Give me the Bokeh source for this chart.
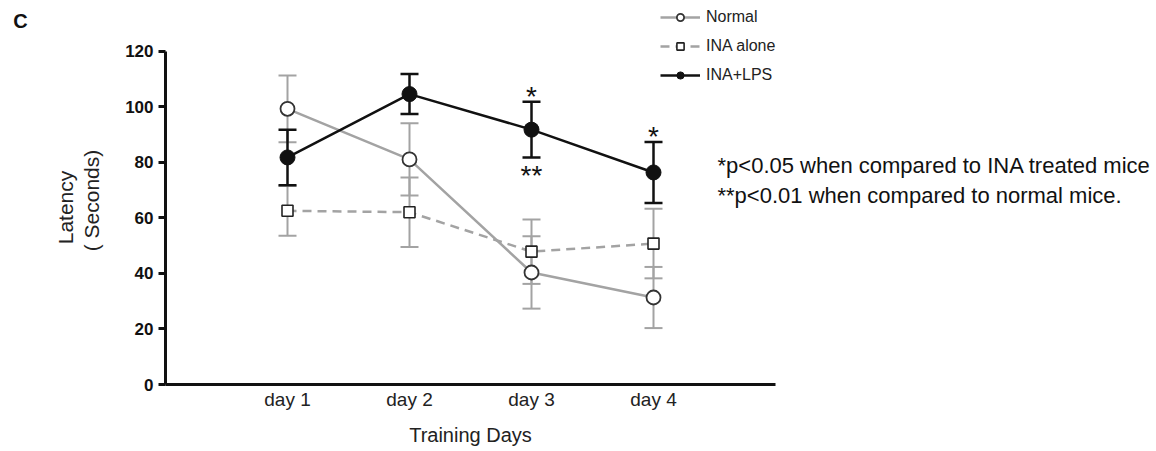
import math
from bokeh.plotting import figure
from bokeh.models import (ColumnDataSource, Range1d, FixedTicker, Whisker, TeeHead,
                          Legend, LegendItem, Label)
from bokeh.embed import file_html
from bokeh.resources import INLINE

# ---- data ----
days = ["day 1", "day 2", "day 3", "day 4"]
normal = [99.2, 81.0, 40.3, 31.3]
normal_err = [12.0, 13.0, 13.0, 11.0]
ina_alone = [62.5, 62.0, 47.8, 50.7]
ina_alone_err = [9.0, 12.5, 11.6, 12.5]
ina_lps = [81.7, 104.5, 91.7, 76.3]
ina_lps_err = [10.0, 7.2, 10.0, 11.0]
sig_above = ["", "", "*", "*"]
sig_below = ["", "", "**", ""]
y_ticks = [0, 20, 40, 60, 80, 100, 120]

x = list(range(1, len(days) + 1))

GRAY = "#a3a3a3"
BLACK = "#111111"
FONT = "Liberation Sans"

# ---- layout (pixels) ----
W, H = 1156, 451
AX_LEFT, AX_BOTTOM, AX_TOP = 165, 384, 50.5   # where the axes sit on the page
X_PX = 122.0                                  # pixels per day
Y_PX = (AX_BOTTOM - AX_TOP) / 120.0


def src(vals, errs):
    return ColumnDataSource(dict(
        x=x, y=vals,
        upper=[v + e for v, e in zip(vals, errs)],
        lower=[v - e for v, e in zip(vals, errs)],
    ))


s_norm = src(normal, normal_err)
s_ina = src(ina_alone, ina_alone_err)
s_lps = src(ina_lps, ina_lps_err)

p = figure(width=W, height=H, min_border=0,
           x_range=Range1d(-AX_LEFT / X_PX, (W - AX_LEFT) / X_PX),
           y_range=Range1d(-(H - AX_BOTTOM) / Y_PX, 120 + AX_TOP / Y_PX),
           output_backend="svg", toolbar_location=None,
           background_fill_color="white", border_fill_color="white")
p.outline_line_color = None
p.xgrid.visible = False
p.ygrid.visible = False

# axes (drawn at data origin, limited to the data extent)
p.xaxis.fixed_location = 0
p.xaxis.bounds = (0, len(days) + 1)
p.xaxis.ticker = FixedTicker(ticks=x)
p.xaxis.major_label_overrides = {i: d for i, d in zip(x, days)}
p.xaxis.major_tick_out = 0
p.xaxis.major_tick_in = 0
p.xaxis.minor_tick_line_color = None
p.xaxis.axis_line_width = 3
p.xaxis.axis_line_color = BLACK
p.xaxis.major_label_text_font = FONT
p.xaxis.major_label_text_font_size = "19px"
p.xaxis.major_label_text_color = "#222222"
p.xaxis.major_label_standoff = 4
p.xaxis.axis_label = "Training Days"
p.xaxis.axis_label_text_font = FONT
p.xaxis.axis_label_text_font_size = "20px"
p.xaxis.axis_label_text_font_style = "normal"
p.xaxis.axis_label_text_color = "#222222"
p.xaxis.axis_label_standoff = 11

p.yaxis.fixed_location = 0
p.yaxis.bounds = (0, 120)
p.yaxis.ticker = FixedTicker(ticks=y_ticks)
p.yaxis.minor_tick_line_color = None
p.yaxis.major_tick_out = 7
p.yaxis.major_tick_in = 0
p.yaxis.major_tick_line_width = 3
p.yaxis.major_tick_line_color = BLACK
p.yaxis.axis_line_width = 3
p.yaxis.axis_line_color = BLACK
p.yaxis.major_label_text_font = FONT
p.yaxis.major_label_text_font_size = "17px"
p.yaxis.major_label_text_font_style = "bold"
p.yaxis.major_label_text_color = "#111111"
p.yaxis.major_label_standoff = 5

# error bars
for s, col, lw in [(s_ina, GRAY, 2), (s_norm, GRAY, 2), (s_lps, BLACK, 2.5)]:
    w = Whisker(source=s, base="x", upper="upper", lower="lower", dimension="height",
                line_color=col, line_width=lw,
                upper_head=TeeHead(size=18, line_color=col, line_width=lw),
                lower_head=TeeHead(size=18, line_color=col, line_width=lw))
    p.add_layout(w)

# lines + markers
l_norm = p.line("x", "y", source=s_norm, line_color=GRAY, line_width=2.5)
m_norm = p.scatter("x", "y", source=s_norm, marker="circle", size=14,
                   fill_color="white", line_color="#333333", line_width=1.8)
l_ina = p.line("x", "y", source=s_ina, line_color=GRAY, line_width=2.5, line_dash="9 6")
m_ina = p.scatter("x", "y", source=s_ina, marker="square", size=11,
                  fill_color="white", line_color="#222222", line_width=1.6)
l_lps = p.line("x", "y", source=s_lps, line_color=BLACK, line_width=2.5)
m_lps = p.scatter("x", "y", source=s_lps, marker="circle", size=15,
                  fill_color=BLACK, line_color=BLACK)

# significance marks
star_src = ColumnDataSource(dict(
    x=x,
    ya=[v + e + 1.8 for v, e in zip(ina_lps, ina_lps_err)],
    yb=[v - e - 6.5 for v, e in zip(ina_lps, ina_lps_err)],
    ta=sig_above, tb=sig_below))
p.text("x", "ya", text="ta", source=star_src, text_align="center",
       text_baseline="alphabetic", text_font_size="28px", text_color=BLACK,
       text_font={"value": FONT})
p.text("x", "yb", text="tb", source=star_src, text_align="center",
       text_baseline="alphabetic", text_font_size="28px", text_color=BLACK,
       text_font={"value": FONT})

# legend (top-left corner at page (660, 8))
legend = Legend(items=[
    LegendItem(label="Normal", renderers=[l_norm, m_norm]),
    LegendItem(label="INA alone", renderers=[l_ina, m_ina]),
    LegendItem(label="INA+LPS", renderers=[l_lps, m_lps]),
], location=(660, H - 84), orientation="vertical",
    glyph_width=40, glyph_height=18, label_height=18, spacing=11,
    padding=0, margin=0, label_standoff=6,
    border_line_color=None, background_fill_alpha=0,
    label_text_font=FONT, label_text_font_size="16px", label_text_color="#222222")
p.add_layout(legend, "center")


def label(px, py, text, size, style="normal", align="left", angle=0.0, color="#222222"):
    p.add_layout(Label(x=px, y=H - py, x_units="screen", y_units="screen", text=text,
                       angle=angle, text_font=FONT, text_font_size=size,
                       text_font_style=style, text_align=align,
                       text_baseline="middle", text_color=color))


label(20, 20, "C", "20px", style="bold", align="center", color=BLACK)
label(65, 207, "Latency", "21px", align="center", angle=math.pi / 2)
label(91, 200, "( Seconds)", "21px", align="center", angle=math.pi / 2)
label(717, 165, "*p<0.05 when compared to  INA treated mice", "22px", color="#111111")
label(717, 195, "**p<0.01 when compared to normal mice.", "22px", color="#111111")

open("out.html", "w").write(file_html(p, INLINE))
